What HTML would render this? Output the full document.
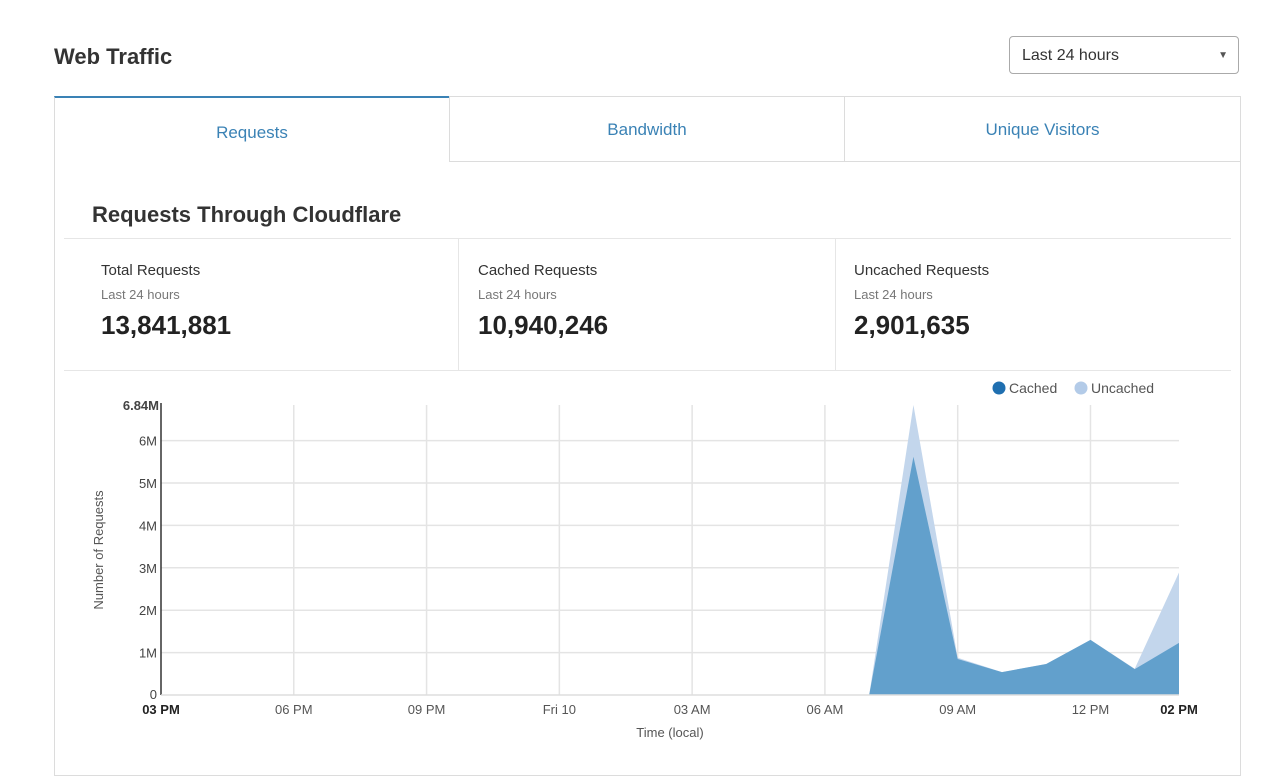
<!DOCTYPE html>
<html><head><meta charset="utf-8"><style>
body{margin:0;width:1280px;height:755px;background:#fff;font-family:"Liberation Sans",sans-serif;position:relative;overflow:hidden;color:#222}
.abs{position:absolute}
.tab{position:absolute;top:96px;height:66px;border:1px solid #dcdcdc;box-sizing:border-box;color:#3a82b5;font-size:17px;text-align:center;line-height:66px;background:#fff}
.stat .l{font-size:15px;color:#333}
.stat .s{font-size:13px;color:#777;margin-top:8px}
.stat .v{font-size:26px;font-weight:bold;color:#222;margin-top:8px}
</style></head><body>
<div class="abs" style="left:54px;top:44px;font-size:22px;font-weight:bold;color:#333">Web Traffic</div>
<div class="abs" style="left:1009px;top:36px;width:230px;height:38px;border:1px solid #aaa;border-radius:4px;box-sizing:border-box;font-size:16px;line-height:38px;padding-left:12px;color:#333">Last 24 hours<span style="position:absolute;right:10px;top:0;font-size:10px;color:#555">▼</span></div>
<div class="abs" style="left:54px;top:96px;width:1187px;height:680px;border:1px solid #dcdcdc;box-sizing:border-box"></div>
<div class="tab" style="left:54px;width:396px;border-top:2px solid #3a82b5;border-bottom:none;line-height:70px">Requests</div>
<div class="tab" style="left:449px;width:396px;background:#fff">Bandwidth</div>
<div class="tab" style="left:844px;width:397px">Unique Visitors</div>
<div class="abs" style="left:92px;top:202px;font-size:22px;font-weight:bold;color:#333">Requests Through Cloudflare</div>
<div class="abs" style="left:64px;top:238px;width:1167px;height:1px;background:#e6e6e6"></div>
<div class="abs" style="left:64px;top:370px;width:1167px;height:1px;background:#e6e6e6"></div>
<div class="abs" style="left:458px;top:239px;width:1px;height:131px;background:#e6e6e6"></div>
<div class="abs" style="left:835px;top:239px;width:1px;height:131px;background:#e6e6e6"></div>
<div class="abs stat" style="left:101px;top:262px"><div class="l">Total Requests</div><div class="s">Last 24 hours</div><div class="v">13,841,881</div></div>
<div class="abs stat" style="left:478px;top:262px"><div class="l">Cached Requests</div><div class="s">Last 24 hours</div><div class="v">10,940,246</div></div>
<div class="abs stat" style="left:854px;top:262px"><div class="l">Uncached Requests</div><div class="s">Last 24 hours</div><div class="v">2,901,635</div></div>
<svg id="chart" class="abs" style="left:0;top:0" width="1280" height="755"></svg>
<script>
const hours = ["03 PM","","","06 PM","","","09 PM","","","Fri 10","","","03 AM","","","06 AM","","","09 AM","","","12 PM","","02 PM"];
const cached = [0,0,0,0,0,0,0,0,0,0,0,0,0,0,0,0,0,5.62,0.85,0.54,0.73,1.3,0.61,1.23];
const uncached = [0,0,0,0,0,0,0,0,0,0,0,0,0,0,0,0,0,1.22,0.03,0,0,0,0.01,1.66];
const yTicks = [1,2,3,4,5,6];
const yMax = 6.84;
const svg=document.getElementById('chart');
const NS='http://www.w3.org/2000/svg';
const x0=161,x1=1179,y0=695,y1=405;
const xs=i=>x0+(x1-x0)*i/(hours.length-1);
const ys=v=>y0-(y0-y1)*v/yMax;
function mk(t,a,txt){const e=document.createElementNS(NS,t);for(const k in a)e.setAttribute(k,a[k]);if(txt!=null)e.textContent=txt;svg.appendChild(e);return e;}
yTicks.forEach(v=>{const l=mk('line',{x1:x0,x2:x1,y1:ys(v),y2:ys(v),stroke:'#e4e4e4','stroke-width':1.5});


const t=mk('text',{x:x0-4,y:ys(v)+5,'text-anchor':'end','font-size':13,fill:'#444'},v+'M');

});
const t0=mk('text',{x:x0-4,y:y0+4,'text-anchor':'end','font-size':13,fill:'#444'},'0');


const tm=mk('text',{x:x0-2,y:y1+5,'text-anchor':'end','font-size':13,'font-weight':'bold',fill:'#444'},yMax+'M');


hours.forEach((h,i)=>{if(!h)return;if(i>0&&i<hours.length-1){const l=mk('line',{x1:xs(i),x2:xs(i),y1:y1,y2:y0,stroke:'#e4e4e4','stroke-width':1.5});

}
const b=(i==0||i==hours.length-1);
const t=mk('text',{x:xs(i),y:y0+19,'text-anchor':'middle','font-size':13,fill:b?'#222':'#555','font-weight':b?'bold':'normal'},h);

});
let pt=hours.map((_,i)=>xs(i)+','+ys(cached[i]+uncached[i]));
const ua=mk('polygon',{points:x0+','+y0+' '+pt.join(' ')+' '+x1+','+y0,fill:'#c3d6ec'});


pt=hours.map((_,i)=>xs(i)+','+ys(cached[i]));
const ca=mk('polygon',{points:x0+','+y0+' '+pt.join(' ')+' '+x1+','+y0,fill:'#62a0cc'});


const ax=mk('line',{x1:x0,x2:x0,y1:y1-2,y2:y0,stroke:'#333','stroke-width':1.5});


const bx=mk('line',{x1:x0,x2:x1,y1:y0,y2:y0,stroke:'#ddd','stroke-width':1.5});


const yt=mk('text',{x:0,y:0,transform:'translate(103,550) rotate(-90)','text-anchor':'middle','font-size':13,fill:'#555'},'Number of Requests');


const xt=mk('text',{x:670,y:737,'text-anchor':'middle','font-size':13,fill:'#555'},'Time (local)');


const l1=mk('circle',{cx:999,cy:388,r:6.5,fill:'#1f6fb0'});


const l1t=mk('text',{x:1009,y:393,'font-size':14,fill:'#555'},'Cached');


const l2=mk('circle',{cx:1081,cy:388,r:6.5,fill:'#b3cbe8'});


const l2t=mk('text',{x:1091,y:393,'font-size':14,fill:'#555'},'Uncached');


</script>
</body></html>
